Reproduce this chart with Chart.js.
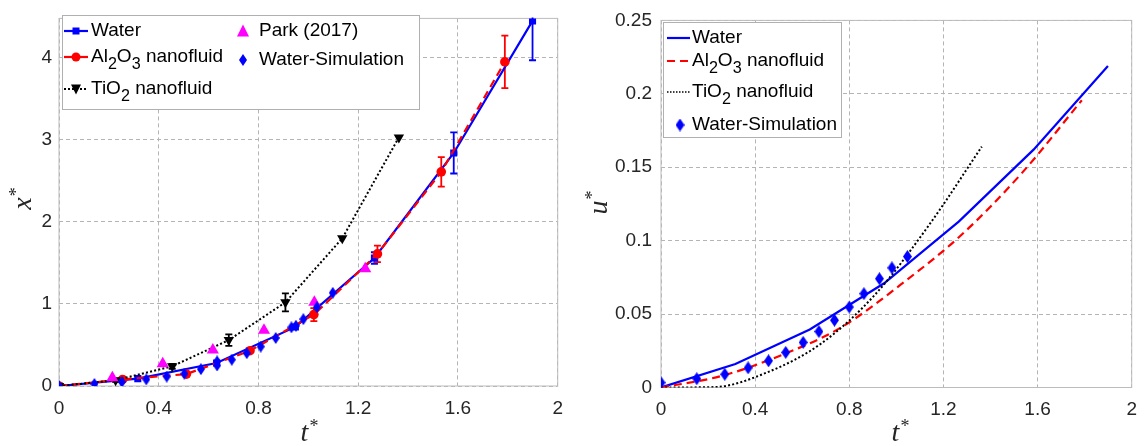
<!DOCTYPE html>
<html>
<head>
<meta charset="utf-8">
<script src="https://cdn.jsdelivr.net/npm/chart.js@4.4.1/dist/chart.umd.min.js"></script>
<style>
  html, body { margin: 0; padding: 0; background: #fff; }
  #wrap { position: relative; width: 1148px; height: 446px; }
  .panel { position: absolute; top: 0; width: 574px; height: 446px; }
  canvas { display: block; }
</style>
</head>
<body>
<div id="wrap">
  <div class="panel" style="left:0"><canvas id="posChart" width="574" height="446"></canvas></div>
  <div class="panel" style="left:574px"><canvas id="velChart" width="574" height="446"></canvas></div>
</div>
<script>
// ---- axis ticks ----
const tTicks = [0, 0.4, 0.8, 1.2, 1.6, 2];
const tTickLabels = ['0', '0.4', '0.8', '1.2', '1.6', '2'];
const xTicks = [0, 1, 2, 3, 4];
const xTickLabels = ['0', '1', '2', '3', '4'];
const uTicks = [0, 0.05, 0.1, 0.15, 0.2, 0.25];
const uTickLabels = ['0', '0.05', '0.1', '0.15', '0.2', '0.25'];

// ---- dimensionless displacement x* vs t* ----
const waterT = [0, 0.316, 0.632, 0.948, 1.265, 1.583, 1.899];
const waterX = [0, 0.09, 0.28, 0.72, 1.56, 2.84, 4.45];
const waterXErr = [0, 0, 0, 0, 0.07, 0.25, 0.48];

const al2o3T = [0, 0.255, 0.511, 0.766, 1.022, 1.277, 1.533, 1.788];
const al2o3X = [0, 0.08, 0.145, 0.43, 0.87, 1.61, 2.61, 3.95];
const al2o3XErr = [0, 0, 0, 0, 0.08, 0.10, 0.18, 0.32];

const tio2T = [0, 0.227, 0.454, 0.681, 0.908, 1.136, 1.363];
const tio2X = [0, 0.07, 0.24, 0.56, 1.02, 1.80, 3.03];
const tio2XErr = [0, 0.02, 0.03, 0.07, 0.11, 0, 0];

const parkT = [0.214, 0.416, 0.617, 0.822, 1.024, 1.228];
const parkX = [0.10, 0.27, 0.44, 0.68, 1.02, 1.43];

const simT = [0, 0.142, 0.252, 0.35, 0.432, 0.503, 0.569, 0.634, 0.634, 0.693, 0.753, 0.809, 0.869, 0.932, 0.95, 0.98, 1.034, 1.098];
const simX = [0, 0.025, 0.05, 0.08, 0.115, 0.15, 0.205, 0.25, 0.30, 0.32, 0.40, 0.48, 0.585, 0.715, 0.735, 0.815, 0.96, 1.135];

// ---- dimensionless velocity u* vs t* ----
const waterU = [0, 0.016, 0.0395, 0.071, 0.113, 0.162, 0.219];
const al2o3U = [0, 0.0078, 0.022, 0.041, 0.0705, 0.104, 0.146, 0.1956];
const tio2U = [0, 0.0003, 0.0105, 0.030, 0.063, 0.110, 0.164];
const simUT = [0, 0.152, 0.271, 0.37, 0.457, 0.53, 0.604, 0.671, 0.737, 0.80, 0.862, 0.928, 0.981, 1.047];
const simU = [0.0033, 0.006, 0.009, 0.0134, 0.0182, 0.0239, 0.0307, 0.0381, 0.0458, 0.0548, 0.0639, 0.0741, 0.0815, 0.0892];

// ---- colours & fonts ----
const BLUE = '#0000ff', RED = '#ff0000', BLACK = '#000000', MAGENTA = '#ff00ff';
const TEXT = '#262626';
const SANS = '"Liberation Sans", Arial, Helvetica, sans-serif';
const SERIF = '"Liberation Serif", "Times New Roman", serif';
const LEGEND_SIZE = 19;

const pts = (xs, ys) => xs.map((v, i) => ({ x: v, y: ys[i] }));

function diamondImage(w, h, color) {
  const c = document.createElement('canvas');
  c.width = w; c.height = h;
  const g = c.getContext('2d');
  g.fillStyle = color;
  g.beginPath();
  g.moveTo(w / 2, 0); g.lineTo(w, h / 2); g.lineTo(w / 2, h); g.lineTo(0, h / 2);
  g.closePath(); g.fill();
  return c;
}
const diamondSmall = diamondImage(8, 12, BLUE);
const diamondLarge = diamondImage(9, 13, BLUE);

// marker drawing used by the legend boxes
function drawMarker(ctx, m, x, y) {
  ctx.save();
  ctx.fillStyle = m.color;
  ctx.setLineDash([]);
  ctx.beginPath();
  if (m.style === 'rect') {
    ctx.rect(x - m.size / 2, y - m.size / 2, m.size, m.size);
  } else if (m.style === 'circle') {
    ctx.arc(x, y, m.size / 2, 0, Math.PI * 2);
  } else if (m.style === 'triUp' || m.style === 'triDown') {
    const s = m.size, d = m.style === 'triUp' ? 1 : -1;
    ctx.moveTo(x, y - d * s * 0.55);
    ctx.lineTo(x + s / 2, y + d * s * 0.45);
    ctx.lineTo(x - s / 2, y + d * s * 0.45);
    ctx.closePath();
  } else if (m.style === 'image') {
    ctx.drawImage(m.img, x - m.img.width / 2, y - m.img.height / 2);
    ctx.restore();
    return;
  }
  ctx.fill();
  ctx.restore();
}

// text with subscripts, parts = [[text, isSubscript], ...]
function drawRich(ctx, parts, x, y, size) {
  let cx = x;
  ctx.textAlign = 'left';
  ctx.textBaseline = 'middle';
  for (const [txt, sub] of parts) {
    const fs = sub ? size * 0.85 : size;
    ctx.font = fs + 'px ' + SANS;
    ctx.fillText(txt, cx, sub ? y + size * 0.42 : y);
    cx += ctx.measureText(txt).width;
  }
}

const framePlugin = {
  id: 'frame',
  beforeDatasetsDraw(chart) {
    const { ctx, chartArea: a } = chart;
    ctx.save();
    ctx.strokeStyle = '#bcbcbc';
    ctx.lineWidth = 1;
    ctx.setLineDash([]);
    ctx.strokeRect(a.left, a.top, a.right - a.left, a.bottom - a.top);
    ctx.restore();
  }
};

const errorBarPlugin = {
  id: 'errorBars',
  beforeDatasetsDraw(chart) {
    const { ctx, chartArea: a, scales: { x, y } } = chart;
    ctx.save();
    ctx.beginPath();
    ctx.rect(a.left, a.top - 1, a.right - a.left, a.bottom - a.top + 2);
    ctx.clip();
    chart.data.datasets.forEach(ds => {
      if (!ds.errorBars) return;
      ctx.strokeStyle = ds.borderColor;
      ctx.lineWidth = 1.8;
      ctx.setLineDash([]);
      ds.data.forEach((p, i) => {
        const e = ds.errorBars[i];
        if (!e) return;
        const px = x.getPixelForValue(p.x);
        const top = y.getPixelForValue(p.y + e);
        const bot = y.getPixelForValue(p.y - e);
        ctx.beginPath();
        ctx.moveTo(px, top); ctx.lineTo(px, bot);
        ctx.moveTo(px - 3.5, top); ctx.lineTo(px + 3.5, top);
        ctx.moveTo(px - 3.5, bot); ctx.lineTo(px + 3.5, bot);
        ctx.stroke();
      });
    });
    ctx.restore();
  }
};

const axisTitlePlugin = {
  id: 'axisTitles',
  afterDraw(chart, args, opts) {
    const { ctx } = chart;
    (opts.items || []).forEach(t => {
      ctx.save();
      ctx.translate(t.x, t.y);
      ctx.rotate(t.angle || 0);
      ctx.fillStyle = TEXT;
      ctx.textBaseline = 'alphabetic';
      ctx.textAlign = 'left';
      ctx.font = 'italic 28px ' + SERIF;
      const wMain = ctx.measureText(t.text).width;
      ctx.font = '18px ' + SERIF;
      const wSup = ctx.measureText('*').width;
      const start = -(wMain + wSup) / 2;
      ctx.font = 'italic 28px ' + SERIF;
      ctx.fillText(t.text, start, 0);
      ctx.font = '18px ' + SERIF;
      ctx.fillText('*', start + wMain + 1, -9);
      ctx.restore();
    });
  }
};

const legendBoxPlugin = {
  id: 'legendBox',
  afterDraw(chart, args, opts) {
    const { ctx } = chart;
    const b = opts.box;
    if (!b) return;
    ctx.save();
    ctx.fillStyle = '#ffffff';
    ctx.fillRect(b.x, b.y, b.w, b.h);
    ctx.strokeStyle = '#b0b0b0';
    ctx.lineWidth = 1;
    ctx.setLineDash([]);
    ctx.strokeRect(b.x + 0.5, b.y + 0.5, b.w, b.h);
    opts.entries.forEach(e => {
      if (e.line) {
        ctx.beginPath();
        ctx.strokeStyle = e.line.color;
        ctx.lineWidth = e.line.width;
        ctx.setLineDash(e.line.dash || []);
        ctx.moveTo(e.lx0, e.y); ctx.lineTo(e.lx1, e.y);
        ctx.stroke();
        ctx.setLineDash([]);
      }
      if (e.marker) drawMarker(ctx, e.marker, e.mx, e.y);
      ctx.fillStyle = '#000';
      drawRich(ctx, e.parts, e.tx, e.y, LEGEND_SIZE);
    });
    ctx.restore();
  }
};

function buildChart(id, cfg) {
  const W = 574, H = 446;
  const a = cfg.area;
  const tickFont = { family: SANS, size: 19 };
  return new Chart(document.getElementById(id), {
    type: 'scatter',
    data: { datasets: cfg.datasets },
    options: {
      responsive: false,
      animation: false,
      events: [],
      layout: { padding: { left: 0, right: W - a.right, top: a.top, bottom: 0 } },
      plugins: {
        legend: { display: false },
        tooltip: { enabled: false },
        axisTitles: { items: cfg.titles },
        legendBox: cfg.legend
      },
      scales: {
        x: {
          type: 'linear', min: 0, max: 2,
          afterFit: s => { s.height = H - a.bottom; },
          afterBuildTicks: s => { s.ticks = tTicks.map(v => ({ value: v })); },
          ticks: {
            callback: (v, i) => tTickLabels[i],
            padding: 11, color: TEXT, font: tickFont,
            maxRotation: 0, autoSkip: false
          },
          grid: { color: '#b4b4b4', lineWidth: 1, drawTicks: false },
          border: { display: false, dash: [4, 3] }
        },
        y: {
          type: 'linear', min: 0, max: cfg.yMax,
          afterFit: s => { s.width = a.left; },
          afterBuildTicks: s => { s.ticks = cfg.yTicks.map(v => ({ value: v })); },
          ticks: {
            callback: (v, i) => cfg.yLabels[i],
            padding: cfg.yPad, color: TEXT, font: tickFont, autoSkip: false
          },
          grid: { color: '#b4b4b4', lineWidth: 1, drawTicks: false },
          border: { display: false, dash: [4, 3] }
        }
      }
    },
    plugins: [framePlugin, errorBarPlugin, axisTitlePlugin, legendBoxPlugin]
  });
}

// ---- left panel: x* ----
buildChart('posChart', {
  area: { left: 59, right: 559, top: 13, bottom: 386 },
  yMax: 4.48, yTicks: xTicks, yLabels: xTickLabels, yPad: 7,
  titles: [
    { text: 'x', x: 31, y: 199, angle: -Math.PI / 2 },
    { text: 't', x: 309, y: 441, angle: 0 }
  ],
  datasets: [
    {
      label: 'Water', data: pts(waterT, waterX), errorBars: waterXErr, order: 5,
      showLine: true, borderColor: BLUE, borderWidth: 2.2,
      pointStyle: 'rect', pointRadius: 5, pointBackgroundColor: BLUE, pointBorderColor: BLUE, pointBorderWidth: 0
    },
    {
      label: 'Al2O3 nanofluid', data: pts(al2o3T, al2o3X), errorBars: al2o3XErr, order: 4,
      showLine: true, borderColor: RED, borderWidth: 2.2, borderDash: [8, 5],
      pointStyle: 'circle', pointRadius: 4.8, pointBackgroundColor: RED, pointBorderColor: RED, pointBorderWidth: 0
    },
    {
      label: 'TiO2 nanofluid', data: pts(tio2T, tio2X), errorBars: tio2XErr, order: 3,
      showLine: true, borderColor: BLACK, borderWidth: 2, borderDash: [2, 2.2],
      pointStyle: 'triangle', pointRotation: 180, pointRadius: 6, pointBackgroundColor: BLACK, pointBorderColor: BLACK, pointBorderWidth: 0
    },
    {
      label: 'Park (2017)', data: pts(parkT, parkX), order: 2,
      showLine: false, borderColor: MAGENTA,
      pointStyle: 'triangle', pointRadius: 7, pointBackgroundColor: MAGENTA, pointBorderColor: MAGENTA, pointBorderWidth: 0
    },
    {
      label: 'Water-Simulation', data: pts(simT, simX), order: 1,
      showLine: false, borderColor: BLUE,
      pointStyle: diamondSmall, pointRadius: 5
    }
  ],
  legend: {
    box: { x: 62, y: 15, w: 357, h: 94 },
    entries: [
      { y: 31, lx0: 64, lx1: 88, mx: 76, tx: 91,
        line: { color: BLUE, width: 2.2 }, marker: { style: 'rect', size: 7, color: BLUE },
        parts: [['Water', 0]] },
      { y: 57, lx0: 64, lx1: 88, mx: 76, tx: 91,
        line: { color: RED, width: 2.2 }, marker: { style: 'circle', size: 9, color: RED },
        parts: [['Al', 0], ['2', 1], ['O', 0], ['3', 1], [' nanofluid', 0]] },
      { y: 89, lx0: 64, lx1: 88, mx: 76, tx: 91,
        line: { color: BLACK, width: 2, dash: [2, 2] }, marker: { style: 'triDown', size: 10, color: BLACK },
        parts: [['TiO', 0], ['2', 1], [' nanofluid', 0]] },
      { y: 31, mx: 243, tx: 259,
        marker: { style: 'triUp', size: 12, color: MAGENTA },
        parts: [['Park (2017)', 0]] },
      { y: 60, mx: 243, tx: 259,
        marker: { style: 'image', img: diamondSmall, color: BLUE },
        parts: [['Water-Simulation', 0]] }
    ]
  }
});

// ---- right panel: u* ----
buildChart('velChart', {
  area: { left: 87, right: 564, top: 19, bottom: 387.5 },
  yMax: 0.25, yTicks: uTicks, yLabels: uTickLabels, yPad: 9,
  titles: [
    { text: 'u', x: 33, y: 203, angle: -Math.PI / 2 },
    { text: 't', x: 326, y: 441, angle: 0 }
  ],
  datasets: [
    {
      label: 'Water', data: pts(waterT, waterU), order: 4,
      showLine: true, borderColor: BLUE, borderWidth: 2.2, pointRadius: 0
    },
    {
      label: 'Al2O3 nanofluid', data: pts(al2o3T, al2o3U), order: 3,
      showLine: true, borderColor: RED, borderWidth: 2.2, borderDash: [8, 5], pointRadius: 0,
      cubicInterpolationMode: 'monotone'
    },
    {
      label: 'TiO2 nanofluid', data: pts(tio2T, tio2U), order: 2,
      showLine: true, borderColor: BLACK, borderWidth: 2, borderDash: [2, 2.2], pointRadius: 0,
      cubicInterpolationMode: 'monotone'
    },
    {
      label: 'Water-Simulation', data: pts(simUT, simU), order: 1,
      showLine: false, borderColor: BLUE,
      pointStyle: diamondLarge, pointRadius: 5
    }
  ],
  legend: {
    box: { x: 89, y: 22, w: 178, h: 115 },
    entries: [
      { y: 38, lx0: 93, lx1: 116, tx: 118,
        line: { color: BLUE, width: 2.2 }, parts: [['Water', 0]] },
      { y: 61, lx0: 93, lx1: 116, tx: 118,
        line: { color: RED, width: 2.2, dash: [8, 5] },
        parts: [['Al', 0], ['2', 1], ['O', 0], ['3', 1], [' nanofluid', 0]] },
      { y: 92, lx0: 93, lx1: 116, tx: 118,
        line: { color: BLACK, width: 1.5, dash: [1.5, 1.5] },
        parts: [['TiO', 0], ['2', 1], [' nanofluid', 0]] },
      { y: 125, mx: 106, tx: 118,
        marker: { style: 'image', img: diamondLarge, color: BLUE },
        parts: [['Water-Simulation', 0]] }
    ]
  }
});
</script>
</body>
</html>
